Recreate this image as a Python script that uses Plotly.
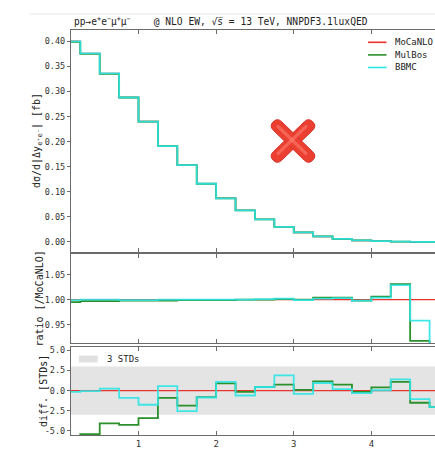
import plotly.graph_objects as go
import math

# ---------------- data ----------------
bin_edges = [0.0, 0.25, 0.5, 0.75, 1.0, 1.25, 1.5, 1.75, 2.0, 2.25, 2.5,
             2.75, 3.0, 3.25, 3.5, 3.75, 4.0, 4.25, 4.5, 4.75, 5.0]
series_names = ["MoCaNLO", "MulBos", "BBMC"]

xsec_mocanlo = [0.400, 0.376, 0.336, 0.288, 0.240, 0.191, 0.153, 0.116, 0.087, 0.063,
                0.045, 0.030, 0.019, 0.011, 0.006, 0.003, 0.0015, 0.0007, 0.0003, 0.0001]
xsec_mulbos = [0.399, 0.375, 0.335, 0.288, 0.240, 0.191, 0.153, 0.116, 0.087, 0.063,
               0.045, 0.030, 0.019, 0.011, 0.006, 0.003, 0.0015, 0.0007, 0.0003, 0.0001]
xsec_bbmc = [0.400, 0.376, 0.336, 0.288, 0.240, 0.191, 0.153, 0.116, 0.087, 0.063,
             0.045, 0.030, 0.019, 0.011, 0.006, 0.003, 0.0015, 0.0007, 0.0003, 0.0001]

ratio_mocanlo = [1.0] * 20
ratio_mulbos = [0.995, 0.997, 0.997, 0.998, 0.998, 0.998, 0.999, 0.999, 0.999, 1.000,
                1.000, 1.001, 1.000, 1.004, 1.004, 0.998, 1.006, 1.031, 0.918, 0.900]
ratio_bbmc = [0.999, 1.000, 1.000, 0.999, 0.999, 1.000, 1.000, 1.000, 1.000, 1.000,
              1.001, 1.002, 0.999, 1.002, 1.003, 0.998, 1.004, 1.029, 0.958, 0.900]

diff_mocanlo = [0.0] * 20
diff_mulbos = [-6.5, -5.4, -4.05, -4.25, -3.4, -0.9, -1.85, -0.8, 0.9, -0.15,
               0.45, 0.75, 0.1, 1.15, 0.75, -0.15, 0.4, 1.1, -1.5, -2.05]
diff_bbmc = [-0.15, -0.05, 0.25, -0.9, -1.75, 0.55, -2.55, -0.85, 1.1, -0.6,
             0.45, 1.9, -0.4, 0.95, 0.2, -0.3, 0.05, 1.4, -1.05, -2.05]

std_band = [-3.0, 3.0]

top_ticks = [0.0, 0.05, 0.10, 0.15, 0.20, 0.25, 0.30, 0.35, 0.40]
top_ticktext = ["0.00", "0.05", "0.10", "0.15", "0.20", "0.25", "0.30", "0.35", "0.40"]
ratio_ticks = [0.95, 1.00, 1.05]
ratio_ticktext = ["0.95", "1.00", "1.05"]
diff_ticks = [-5.0, -2.5, 0.0, 2.5, 5.0]
diff_ticktext = ["-5.0", "-2.5", "0.0", "2.5", "5.0"]
x_ticks = [1, 2, 3, 4]
x_ticktext = ["1", "2", "3", "4"]

# ---------------- styling ----------------
W, H = 435, 449
ML, MR, MT, MB = 71, 0, 30, 14
PW, PH = W - ML - MR, H - MT - MB
MONO = "DejaVu Sans Mono"
colors = {"MoCaNLO": "#e8322c", "MulBos": "#2b8f2b", "BBMC": "#2ee6e6"}
widths = {"MoCaNLO": 1.4, "MulBos": 1.8, "BBMC": 1.8}
AX = "#6b6b6b"


def px2x(px):
    return (px - ML) / PW


def px2y(py):
    return (H - MB - py) / PH


def step(vals):
    return list(vals) + [vals[-1]]


fig = go.Figure()

panels = [
    ("", "y", {"MoCaNLO": xsec_mocanlo, "MulBos": xsec_mulbos, "BBMC": xsec_bbmc}),
    ("2", "y2", {"MoCaNLO": ratio_mocanlo, "MulBos": ratio_mulbos, "BBMC": ratio_bbmc}),
    ("3", "y3", {"MoCaNLO": diff_mocanlo, "MulBos": diff_mulbos, "BBMC": diff_bbmc}),
]

for sfx, yname, data in panels:
    for name in series_names:
        fig.add_trace(go.Scatter(
            x=bin_edges, y=step(data[name]), mode="lines", line_shape="hv",
            line=dict(color=colors[name], width=widths[name]),
            opacity=0.9 if name == "BBMC" else 1.0,
            xaxis="x" + sfx, yaxis=yname, showlegend=False, name=name))

# 3-STD band in diff panel
fig.add_shape(type="rect", xref="x3 domain", yref="y3", x0=0, x1=1,
              y0=std_band[0], y1=std_band[1], fillcolor="#e4e4e4",
              line_width=0, layer="below")

# domains (pixels from top)
top_dom = [px2y(252), px2y(30)]
ratio_dom = [px2y(343.3), px2y(254)]
diff_dom = [px2y(435), px2y(346.7)]
xr = [0.13, 4.82]

xcommon = dict(range=xr, showline=True, linecolor=AX, linewidth=1.3, mirror="ticks",
               ticks="inside", ticklen=4, tickcolor=AX, tickvals=x_ticks,
               ticktext=x_ticktext, showgrid=False, zeroline=False,
               tickfont=dict(family=MONO, size=9, color="#333"))
ycommon = dict(showline=True, linecolor=AX, linewidth=1.3, mirror=False,
               ticks="outside", ticklen=3, tickcolor=AX, showgrid=False,
               zeroline=False, tickfont=dict(family=MONO, size=8.5, color="#333"))

fig.update_layout(
    width=W, height=H, margin=dict(l=ML, r=MR, t=MT, b=MB, autoexpand=False),
    paper_bgcolor="white", plot_bgcolor="white", showlegend=False,
    xaxis=dict(**xcommon, domain=[0, 1], anchor="y", showticklabels=False),
    xaxis2=dict(**xcommon, domain=[0, 1], anchor="y2", showticklabels=False, matches="x"),
    xaxis3=dict(**xcommon, domain=[0, 1], anchor="y3", showticklabels=True, matches="x"),
    yaxis=dict(**ycommon, domain=top_dom, anchor="x", range=[-0.02, 0.4225],
               tickvals=top_ticks, ticktext=top_ticktext),
    yaxis2=dict(**ycommon, domain=ratio_dom, anchor="x2", range=[0.913, 1.091],
                tickvals=ratio_ticks, ticktext=ratio_ticktext),
    yaxis3=dict(**ycommon, domain=diff_dom, anchor="x3", range=[-5.5, 5.45],
                tickvals=diff_ticks, ticktext=diff_ticktext),
)

NB = "\u00a0"
ann = []
# title
ann.append(dict(xref="paper", yref="paper", x=px2x(72), y=px2y(21), xanchor="left",
                yanchor="middle", showarrow=False,
                text=("pp→e<sup>+</sup>e<sup>−</sup>μ<sup>+</sup>μ<sup>−</sup>" + NB * 4
                      + "@ NLO EW, √s̅ = 13" + "\u2009" + "TeV, NNPDF3.1luxQED"),
                font=dict(family=MONO, size=9.6, color="#222")))
# y titles
for txt, xp, yp in [("dσ/d|Δy<sub>e⁺e⁻</sub>| [fb]", 37, 141),
                    ("ratio [/MoCaNLO]", 40, 298.6),
                    ("diff. [STDs]", 43, 391)]:
    ann.append(dict(xref="paper", yref="paper", x=px2x(xp), y=px2y(yp), textangle=-90,
                    xanchor="center", yanchor="middle", showarrow=False, text=txt,
                    font=dict(family=MONO, size=10, color="#222")))

shapes = []
# legend (top panel)
for i, name in enumerate(series_names):
    yy = 42.3 + i * 12.6
    shapes.append(dict(type="line", xref="paper", yref="paper", x0=px2x(368), x1=px2x(386.5),
                       y0=px2y(yy), y1=px2y(yy), line=dict(color=colors[name], width=1.6)))
    ann.append(dict(xref="paper", yref="paper", x=px2x(392.5), y=px2y(yy), xanchor="left",
                    yanchor="middle", showarrow=False, text=name,
                    font=dict(family=MONO, size=9, color="#222")))
# 3 STDs legend
shapes.append(dict(type="rect", xref="paper", yref="paper", x0=px2x(79), x1=px2x(97.7),
                   y0=px2y(362.5), y1=px2y(355.5), fillcolor="#e0e0e0", line_width=0))
ann.append(dict(xref="paper", yref="paper", x=px2x(104.5), y=px2y(359), xanchor="left",
                yanchor="middle", showarrow=False, text="3 STDs",
                font=dict(family=MONO, size=9, color="#222")))
# faint top rule
shapes.append(dict(type="line", xref="paper", yref="paper", x0=px2x(30), x1=px2x(435),
                   y0=px2y(14), y1=px2y(14), line=dict(color="#e6e6e6", width=1)))

# red cross mark (decoration)
cx, cy = px2x(293), px2y(141)


def arm(p1, p2, w):
    dx, dy = p2[0] - p1[0], p2[1] - p1[1]
    L = math.hypot(dx, dy)
    ux, uy = dx / L, dy / L
    nx, ny = -uy, ux

    def P(x, y):
        return f"{x:.2f},{y:.2f}"
    a = (p1[0] + nx * w, p1[1] + ny * w)
    b = (p2[0] + nx * w, p2[1] + ny * w)
    c = (p2[0] - nx * w, p2[1] - ny * w)
    d = (p1[0] - nx * w, p1[1] - ny * w)
    return ("M" + P(*a) + " L" + P(*b) +
            " Q" + P(b[0] + ux * w, b[1] + uy * w) + " " + P(p2[0] + ux * w, p2[1] + uy * w) +
            " Q" + P(c[0] + ux * w, c[1] + uy * w) + " " + P(*c) +
            " L" + P(*d) +
            " Q" + P(d[0] - ux * w, d[1] - uy * w) + " " + P(p1[0] - ux * w, p1[1] - uy * w) +
            " Q" + P(a[0] - ux * w, a[1] - uy * w) + " " + P(*a) + " Z")


for p1, p2 in [((-15.5, -15), (15.5, 15)), ((-15.5, 15), (15.5, -15))]:
    shapes.append(dict(type="path", xref="paper", yref="paper", xsizemode="pixel",
                       ysizemode="pixel", xanchor=cx, yanchor=cy, path=arm(p1, p2, 6),
                       fillcolor="#ea3f31", line=dict(color="#d6332a", width=1)))
for p1, p2 in [((-14, -13.5), (14, 13.5)), ((-14, 13.5), (14, -13.5))]:
    shapes.append(dict(type="path", xref="paper", yref="paper", xsizemode="pixel",
                       ysizemode="pixel", xanchor=cx - 1.0 / PW, yanchor=cy + 1.0 / PH,
                       path=arm(p1, p2, 1.6),
                       fillcolor="rgba(255,130,115,0.55)", line_width=0))

fig.update_layout(annotations=ann)
for s in shapes:
    fig.add_shape(**s)

fig.write_html("out.html")
